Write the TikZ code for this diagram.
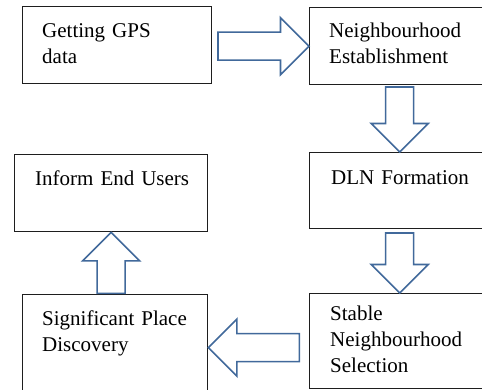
\documentclass[tikz,border=0pt]{standalone}
\usepackage{fontspec}
\setmainfont{Liberation Serif}
\definecolor{arrowblue}{RGB}{65,105,155}
\definecolor{boxline}{RGB}{30,30,30}
\tikzset{
  box/.style={draw=boxline, line width=1.3pt, rectangle, inner sep=0pt, anchor=north west},
  txt/.style={font=\fontsize{21}{26}\selectfont, inner sep=0pt, anchor=base west, align=left, text width=180pt},
  blockarrow/.style={draw=arrowblue, line width=1.6pt, fill=white, line join=miter},
  pics/barrow/.style={code={
    \draw[blockarrow] (0,0) -- (-28.5,28.5) -- (-28.5,14) -- (-#1,14) -- (-#1,-14)
      -- (-28.5,-14) -- (-28.5,-28.5) -- cycle;}}
}
\begin{document}
\begin{tikzpicture}[x=1pt,y=-1pt]
\useasboundingbox (0,0) rectangle (482,389);
\clip (0,0) rectangle (482,389);
\fill[white] (0,0) rectangle (482,389);
% boxes
\node[box, minimum width=189pt, minimum height=77pt] (b1) at (22,6) {};
\node[box, minimum width=180pt, minimum height=77pt] (b2) at (309,7) {};
\node[box, minimum width=180pt, minimum height=76pt] (b3) at (309,152) {};
\node[box, minimum width=180pt, minimum height=95pt] (b4) at (309,293) {};
\node[box, minimum width=193pt, minimum height=77pt] (b5) at (14,154) {};
\node[box, minimum width=185pt, minimum height=106pt] (b6) at (22,294) {};
% texts
\node[txt] (t1) at (42,37) {Getting GPS\\data};
\node[txt] (t2) at (329,37) {Neighbourhood\\Establishment};
\node[txt] (t3) at (331,184) {DLN Formation};
\node[txt] (t4) at (330,320) {Stable\\Neighbourhood\\Selection};
\node[txt] (t5) at (35,185) {Inform End Users};
\node[txt] (t6) at (42,325) {Significant Place\\Discovery};
% block arrows
\pic at (b2.west) {barrow=91};
\pic[rotate=-90] at (b3.north) {barrow=65};
\pic[rotate=-90] at (b4.north) {barrow=60};
\pic[rotate=180] at (b6.east) {barrow=91};
\pic[rotate=90] at (b5.south) {barrow=61};
\end{tikzpicture}
\end{document}
